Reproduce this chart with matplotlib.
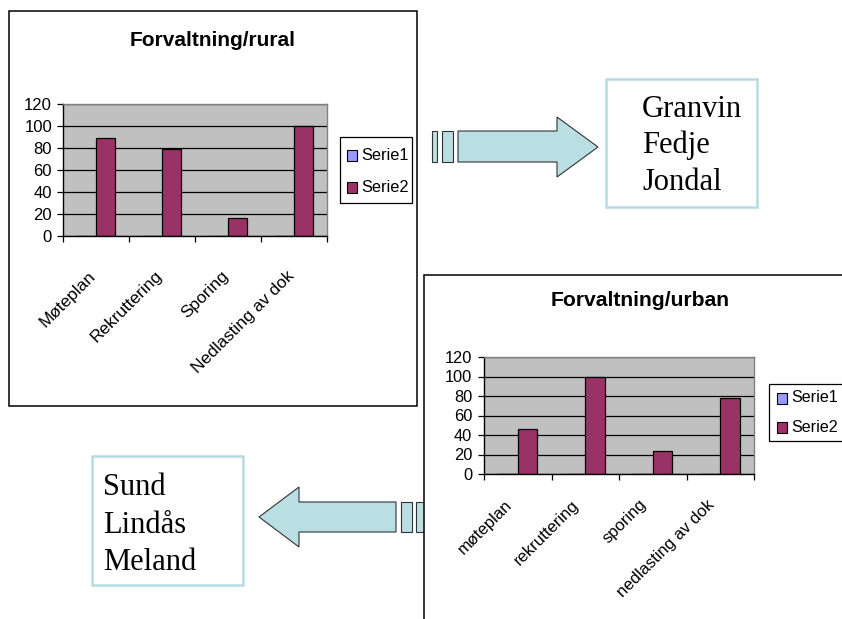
import matplotlib
matplotlib.use("Agg")
import matplotlib.pyplot as plt
from matplotlib.patches import Rectangle, Polygon
import numpy as np

# ---- data -------------------------------------------------------------
series_names = ["Serie1", "Serie2"]
series_colors = ["#9999ff", "#993366"]
y_ticks = [0, 20, 40, 60, 80, 100, 120]

rural_title = "Forvaltning/rural"
rural_categories = ["Møteplan", "Rekruttering", "Sporing", "Nedlasting av dok"]
rural_serie1 = [0, 0, 0, 0]
rural_serie2 = [89, 79, 16, 100]
rural_places = ["Granvin", "Fedje", "Jondal"]

urban_title = "Forvaltning/urban"
urban_categories = ["møteplan", "rekruttering", "sporing", "nedlasting av dok"]
urban_serie1 = [0, 0, 0, 0]
urban_serie2 = [46, 100, 24, 78]
urban_places = ["Sund", "Lindås", "Meland"]

# ---- page ---------------------------------------------------------------
W, H = 842, 619
fig = plt.figure(figsize=(W / 100, H / 100), dpi=100)
fig.patch.set_facecolor("white")

# full-page drawing layer in pixel units (origin top-left)
canvas = fig.add_axes([0, 0, 1, 1], zorder=0)
canvas.set_xlim(0, W)
canvas.set_ylim(H, 0)
canvas.axis("off")

SANS = "Liberation Sans"
SERIF = "Liberation Serif"
ARROW_FILL = "#b9dfe3"
BOX_EDGE = "#b5dce1"


def px_axes(x0, y0, x1, y1):
    return fig.add_axes([x0 / W, 1 - y1 / H, (x1 - x0) / W, (y1 - y0) / H], zorder=3)


def bar_chart(area, cats, s1, s2, label_off, ytick_pad, tick_size, cat_size):
    ax = px_axes(*area)
    n = len(cats)
    x = np.arange(n) + 0.5
    w = 1 / 3.5
    ax.bar(x - w / 2, s1, w, color=series_colors[0], edgecolor="black", linewidth=0.9, zorder=2)
    ax.bar(x + w / 2, s2, w, color=series_colors[1], edgecolor="black", linewidth=0.9, zorder=2)
    ax.set_xlim(0, n)
    ax.set_ylim(0, 120)
    ax.set_facecolor("#c0c0c0")
    ax.set_axisbelow(True)
    ax.yaxis.grid(True, color="black", linewidth=0.9)
    for side in ("top", "right"):
        ax.spines[side].set_color("#808080")
        ax.spines[side].set_linewidth(1.0)
    for side in ("left", "bottom"):
        ax.spines[side].set_color("black")
        ax.spines[side].set_linewidth(1.0)
    ax.set_yticks(y_ticks)
    ax.set_yticklabels([str(v) for v in y_ticks], fontsize=tick_size, family=SANS)
    ax.tick_params(axis="y", direction="out", length=4.3, width=0.9, pad=ytick_pad)
    ax.set_xticks(np.arange(n + 1))
    ax.set_xticklabels([])
    ax.tick_params(axis="x", direction="out", length=4.3, width=0.9)
    for xi, lab in zip(x, cats):
        ax.annotate(lab, xy=(xi, 0), xycoords="data", textcoords="offset pixels",
                    xytext=label_off, rotation=45, ha="right", va="top",
                    fontsize=cat_size, family=SANS, annotation_clip=False)
    return ax


def legend(box, squares_x, rows_y, text_x, size):
    x0, y0, x1, y1 = box
    canvas.add_patch(Rectangle((x0, y0), x1 - x0, y1 - y0, facecolor="white",
                               edgecolor="black", linewidth=0.9, zorder=4))
    for name, col, yy in zip(series_names, series_colors, rows_y):
        canvas.add_patch(Rectangle((squares_x, yy - 5.5), 9.5, 11, facecolor=col,
                                   edgecolor="black", linewidth=0.8, zorder=5))
        canvas.text(text_x, yy, name, fontsize=size, family=SANS, ha="left",
                    va="center", zorder=5)


def arrow(points, rects):
    for (a, b, c, d) in rects:
        canvas.add_patch(Rectangle((a, b), c - a, d - b, facecolor=ARROW_FILL,
                                   edgecolor="#333333", linewidth=0.8, zorder=1))
    canvas.add_patch(Polygon(points, closed=True, facecolor=ARROW_FILL,
                             edgecolor="#333333", linewidth=0.8, zorder=1))


def place_box(box, text_x, baselines, names):
    x0, y0, x1, y1 = box
    canvas.add_patch(Rectangle((x0, y0), x1 - x0, y1 - y0, facecolor="white",
                               edgecolor=BOX_EDGE, linewidth=1.8, zorder=1))
    for name, yb in zip(names, baselines):
        canvas.text(text_x, yb, name, fontsize=22, family=SERIF, ha="left",
                    va="baseline", zorder=2)


# ---- rural chart --------------------------------------------------------
canvas.add_patch(Rectangle((9, 11), 408, 395, facecolor="white", edgecolor="black",
                           linewidth=1.1, zorder=1))
canvas.text(213, 41, rural_title, fontsize=15, fontweight="bold", family=SANS,
            ha="center", va="center", zorder=2)
bar_chart((63, 104, 327, 236), rural_categories, rural_serie1, rural_serie2,
          label_off=(3, -32), ytick_pad=3.6, tick_size=12, cat_size=12.4)
legend((340, 137, 412, 203), 347, (155.5, 187.5), 361, 11.8)

# arrow to the right-hand place list
arrow([(458, 131), (557, 131), (557, 117), (598, 147), (557, 177), (557, 162), (458, 162)],
      [(432, 131, 437, 162), (442, 131, 453, 162)])
place_box((606, 79, 757, 207), 642, (117, 153, 190), rural_places)

# arrow to the left-hand place list
arrow([(396, 502), (299, 502), (299, 487), (259, 517), (299, 547), (299, 532), (396, 532)],
      [(401, 502, 412, 532), (416, 502, 428, 532)])
place_box((92, 456, 243, 585), 103, (495, 533, 570), urban_places)

# ---- urban chart --------------------------------------------------------
canvas.add_patch(Rectangle((424, 275), 460, 400, facecolor="white", edgecolor="black",
                           linewidth=1.1, zorder=2))
canvas.text(640, 301, urban_title, fontsize=15.2, fontweight="bold", family=SANS,
            ha="center", va="center", zorder=3)
bar_chart((484, 357, 754, 474), urban_categories, urban_serie1, urban_serie2,
          label_off=(-3, -23), ytick_pad=4.3, tick_size=11.8, cat_size=12.0)
legend((769, 384, 860, 441), 777, (398, 427), 791, 11.6)

fig.savefig("out.png", dpi=100, facecolor="white")
